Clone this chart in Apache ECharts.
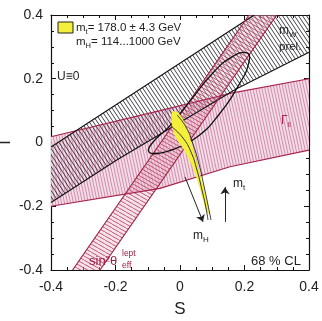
<!DOCTYPE html>
<html>
<head>
<meta charset="utf-8">
<script src="https://cdn.jsdelivr.net/npm/echarts@6/dist/echarts.min.js"></script>
<style>
html,body{margin:0;padding:0;background:#fff}
#chart{width:322px;height:321px}
</style>
</head>
<body>
<div id="chart"></div>
<script>
// axis range (S and T)
var sRange = [-0.4, 0.4];
var tRange = [-0.4, 0.4];

// m_W band, outline and its two edges
var mwBand = [[-0.4,-0.014],[0.23,0.4],[0.4,0.4],[0.4,0.283],[0.174,0.168],[-0.196,-0.055],[-0.4,-0.188]];
var mwUpper = [[-0.4,-0.014],[0.23,0.4]];
var mwLower = [[-0.4,-0.188],[-0.196,-0.055],[0.174,0.168],[0.4,0.283]];

// Gamma_ll band
var gllBand = [[-0.4,0.018],[-0.062,0.1],[0.155,0.154],[0.4,0.2],[0.4,-0.024],[0.155,-0.076],[-0.062,-0.144],[-0.4,-0.2]];
var gllUpper = [[-0.4,0.018],[-0.062,0.1],[0.155,0.154],[0.4,0.2]];
var gllLower = [[-0.4,-0.2],[-0.062,-0.144],[0.155,-0.076],[0.4,-0.024]];

// sin^2 theta_eff band
var swBand = [[-0.333,-0.4],[0.214,0.4],[0.30,0.4],[-0.248,-0.4]];
var swLeft = [[-0.333,-0.4],[0.214,0.4]];
var swRight = [[-0.248,-0.4],[0.30,0.4]];

// 68% CL contour
var clContour = [[0.208,0.281],[0.214,0.253],[0.186,0.187],[0.115,0.080],[0.053,0.017],[-0.009,-0.017],
  [-0.062,-0.033],[-0.096,-0.030],[-0.088,-0.004],[-0.031,0.053],[0.031,0.130],[0.102,0.218],[0.160,0.268]];

// SM prediction (yellow) and lines of fixed m_t
var smArea = [[-0.0248,0.0957],[-0.0248,0.0549],[-0.0155,0.0204],[0.0124,-0.0235],[0.0403,-0.080],[0.0589,-0.1365],
  [0.0744,-0.1898],[0.0837,-0.2212],[0.0899,-0.2212],[0.0837,-0.1804],[0.0682,-0.1239],[0.0527,-0.0643],
  [0.0372,-0.0078],[0.0217,0.0455],[0.0031,0.0831],[-0.0093,0.0957]];
var smLineA = [[-0.0248,0.0486],[0.0093,0.0141],[0.0341,-0.0298],[0.0527,-0.0863],[0.0682,-0.149],[0.0806,-0.2055],[0.0868,-0.2431]];
var smLineB = [[-0.0093,0.0863],[0.0186,0.0486],[0.0403,-0.0047],[0.0589,-0.0675],[0.0744,-0.1365],[0.0868,-0.196],[0.0961,-0.2431]];

// arrows
var mhArrow = [[0.0155,-0.108],[0.0713,-0.249]];
var mtArrow = [[0.1395,-0.249],[0.1395,-0.14]];

var FONT = '"Liberation Sans", Arial, sans-serif';

function hatch(w, h, color, bg, lw) {
  var c = document.createElement('canvas');
  c.width = w; c.height = h;
  var g = c.getContext('2d');
  if (bg) { g.fillStyle = bg; g.fillRect(0, 0, w, h); }
  g.strokeStyle = color; g.lineWidth = lw;
  g.beginPath();
  for (var k = -1; k <= 1; k++) { g.moveTo(k * w, 0); g.lineTo(k * w + w, h); }
  g.stroke();
  return c;
}

function area(pts, fill, z, smooth, stroke) {
  return {
    type: 'custom', coordinateSystem: 'cartesian2d', silent: true, z: z,
    data: [[0, 0]],
    renderItem: function (params, api) {
      return {
        type: 'polygon',
        shape: { points: pts.map(function (p) { return api.coord(p); }), smooth: smooth || 0 },
        style: { fill: fill, stroke: stroke || null, lineWidth: stroke ? 1.3 : 0 }
      };
    }
  };
}

function edge(pts, color, z, width, smooth) {
  return {
    type: 'line', data: pts, z: z, silent: true, showSymbol: false, smooth: smooth || false,
    lineStyle: { color: color, width: width || 1 }
  };
}

function arrow(pts) {
  return {
    type: 'lines', coordinateSystem: 'cartesian2d', z: 9, silent: true,
    symbol: ['none', 'arrow'], symbolSize: 7,
    lineStyle: { color: '#222', width: 1, opacity: 1 },
    data: [{ coords: pts }]
  };
}

var gllFill = { image: hatch(3, 14, '#c97a9a', '#f4dde8', 0.8), repeat: 'repeat' };
var mwFill = { image: hatch(4, 6, '#2a2a35', null, 0.9), repeat: 'repeat' };
var swFill = { image: hatch(7, 4, '#b3385a', 'rgba(236,180,200,0.4)', 0.8), repeat: 'repeat' };

function axisBase(extra) {
  var o = {
    type: 'value', min: sRange[0], max: sRange[1], interval: 0.2,
    axisLine: { onZero: false, lineStyle: { color: '#111', width: 1.2 } },
    axisTick: { inside: true, length: 5, lineStyle: { color: '#111', width: 1 } },
    minorTick: { show: true, splitNumber: 4, length: 3, lineStyle: { color: '#111', width: 1 } },
    splitLine: { show: false },
    axisLabel: { show: false }
  };
  for (var k in extra) o[k] = extra[k];
  return o;
}

var chart = echarts.init(document.getElementById('chart'));
chart.setOption({
  backgroundColor: '#fff',
  animation: false,
  grid: { left: 51, right: 13, top: 15, bottom: 51, outerBoundsMode: 'none' },
  xAxis: [
    axisBase({
      position: 'bottom', name: 'S', nameLocation: 'middle', nameGap: 31, nameMoveOverlap: false,
      nameTextStyle: { fontSize: 17, color: '#222', fontFamily: FONT },
      axisLabel: { show: true, fontSize: 14, color: '#222', margin: 10, fontFamily: FONT }
    }),
    axisBase({ position: 'top' })
  ],
  yAxis: [
    axisBase({
      min: tRange[0], max: tRange[1],
      position: 'left', name: 'T', nameLocation: 'middle', nameRotate: 90, nameGap: 37, nameMoveOverlap: false,
      nameTextStyle: { fontSize: 17, color: '#222', fontFamily: FONT },
      axisLabel: { show: true, fontSize: 14, color: '#222', margin: 8, fontFamily: FONT }
    }),
    axisBase({ min: tRange[0], max: tRange[1], position: 'right' })
  ],
  series: [
    area(gllBand, gllFill, 1),
    area(mwBand, mwFill, 2),
    area(swBand, swFill, 3),
    edge(gllUpper, '#a8244e', 4, 1.1),
    edge(gllLower, '#a8244e', 4, 1.1),
    edge(mwUpper, '#111', 4, 1.1),
    edge(mwLower, '#111', 4, 1.1),
    edge(swLeft, '#9c1c40', 5, 1.1),
    edge(swRight, '#9c1c40', 5, 1.1),
    area(clContour, 'none', 6, 0.5, '#111'),
    area(smArea, '#f4ef3a', 7, 0.3),
    edge(smLineA, '#222', 8, 0.9, true),
    edge(smLineB, '#222', 8, 0.9, true),
    arrow(mhArrow),
    arrow(mtArrow)
  ],
  graphic: [
    { type: 'rect', shape: { x: 58, y: 22, width: 15, height: 11 }, style: { fill: '#f4ef3a', stroke: '#222', lineWidth: 1 }, z: 20 },
    { type: 'text', x: 76, y: 28, z: 20, style: { text: '{m|m}{s|t}{m|= 178.0 ± 4.3 GeV}', verticalAlign: 'middle', fill: '#222',
      rich: { m: { fontSize: 11.5, fontFamily: FONT, lineHeight: 16, fill: '#222' }, s: { fontSize: 7.5, fontFamily: FONT, lineHeight: 8, verticalAlign: 'bottom', fill: '#222' } } } },
    { type: 'text', x: 76, y: 42, z: 20, style: { text: '{m|m}{s|H}{m|= 114...1000 GeV}', verticalAlign: 'middle', fill: '#222',
      rich: { m: { fontSize: 11.5, fontFamily: FONT, lineHeight: 16, fill: '#222' }, s: { fontSize: 7.5, fontFamily: FONT, lineHeight: 8, verticalAlign: 'bottom', fill: '#222' } } } },
    { type: 'text', x: 57, y: 77, z: 20, style: { text: 'U≡0', font: '12px ' + FONT, fill: '#222', verticalAlign: 'middle' } },
    { type: 'text', x: 279, y: 31, z: 20, style: { text: '{m|m}{s|W}', verticalAlign: 'middle',
      rich: { m: { fontSize: 12, fontFamily: FONT, lineHeight: 16, fill: '#222' }, s: { fontSize: 8, fontFamily: FONT, lineHeight: 8, verticalAlign: 'bottom', fill: '#222' } } } },
    { type: 'text', x: 279, y: 47, z: 20, style: { text: 'prel.', font: '11.5px ' + FONT, fill: '#222', verticalAlign: 'middle' } },
    { type: 'text', x: 281, y: 121, z: 20, style: { text: '{m|Γ}{s|ll}', verticalAlign: 'middle',
      rich: { m: { fontSize: 12, fontFamily: FONT, lineHeight: 16, fill: '#a8244e' }, s: { fontSize: 7, fontFamily: FONT, lineHeight: 8, verticalAlign: 'bottom', fill: '#a8244e' } } } },
    { type: 'text', x: 89, y: 261, z: 20, style: { text: 'sin²θ', font: '13px ' + FONT, fill: '#9c1c40', verticalAlign: 'middle' } },
    { type: 'text', x: 122, y: 254, z: 20, style: { text: 'lept', font: '8.5px ' + FONT, fill: '#9c1c40', verticalAlign: 'middle' } },
    { type: 'text', x: 122, y: 266, z: 20, style: { text: 'eff', font: '8.5px ' + FONT, fill: '#9c1c40', verticalAlign: 'middle' } },
    { type: 'text', x: 251, y: 261, z: 20, style: { text: '68 % CL', font: '13px ' + FONT, fill: '#222', verticalAlign: 'middle' } },
    { type: 'text', x: 233, y: 184, z: 20, style: { text: '{m|m}{s|t}', verticalAlign: 'middle',
      rich: { m: { fontSize: 12, fontFamily: FONT, lineHeight: 16, fill: '#222' }, s: { fontSize: 8, fontFamily: FONT, lineHeight: 8, verticalAlign: 'bottom', fill: '#222' } } } },
    { type: 'text', x: 193, y: 236, z: 20, style: { text: '{m|m}{s|H}', verticalAlign: 'middle',
      rich: { m: { fontSize: 12, fontFamily: FONT, lineHeight: 16, fill: '#222' }, s: { fontSize: 8, fontFamily: FONT, lineHeight: 8, verticalAlign: 'bottom', fill: '#222' } } } }
  ]
});
</script>
</body>
</html>
